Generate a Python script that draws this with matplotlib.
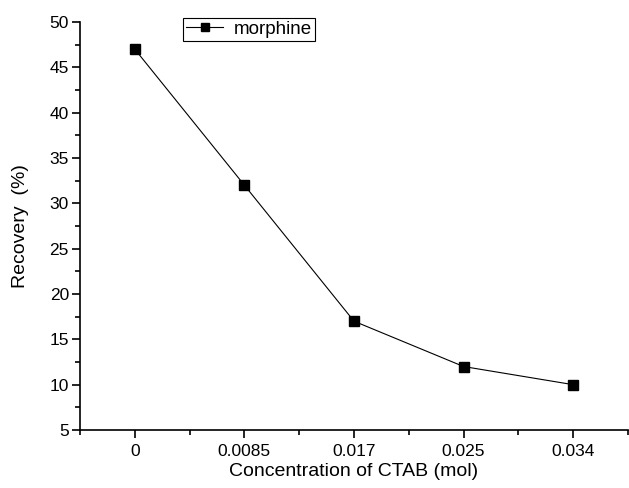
import matplotlib
matplotlib.use('Agg')
import matplotlib.pyplot as plt
from matplotlib.ticker import MultipleLocator

plt.rcParams['font.family'] = ['Liberation Sans', 'DejaVu Sans']

# CTAB concentration (mol) and recovery of morphine (%)
conc_labels = ['0', '0.0085', '0.017', '0.025', '0.034']
recovery = [47, 32, 17, 12, 10]

fig = plt.figure(figsize=(6.29, 4.88), dpi=100)
ax = fig.add_axes([80 / 629, 58 / 488, 548 / 629, 408 / 488])

pos = list(range(len(conc_labels)))
ax.plot(pos, recovery, color='black', lw=0.8, marker='s', ms=7,
        markerfacecolor='black', markeredgecolor='black', label='morphine')

ax.set_xlim(-0.5, len(conc_labels) - 0.5)
ax.set_ylim(5, 50)
ax.set_xticks(pos)
ax.set_xticklabels(conc_labels)
ax.xaxis.set_minor_locator(MultipleLocator(1, offset=0.5))
ax.yaxis.set_major_locator(MultipleLocator(5))
ax.yaxis.set_minor_locator(MultipleLocator(2.5))

for s in ['top', 'right']:
    ax.spines[s].set_visible(False)
for s in ['left', 'bottom']:
    ax.spines[s].set_linewidth(1.2)

ax.tick_params(which='major', direction='out', length=6, width=1.2, labelsize=12.5, pad=2)
ax.tick_params(which='minor', direction='out', length=3.5, width=1.2)
ax.tick_params(axis='x', which='major', pad=4)

ax.set_xlabel('Concentration of CTAB (mol)', fontsize=14, labelpad=3)
ax.set_ylabel('Recovery  (%)', fontsize=14, labelpad=15)

# legend box sits partly above the top of the axes
leg = ax.legend(loc='upper left', bbox_to_anchor=(183 / 629, 1 - 18 / 488),
                bbox_transform=fig.transFigure, borderaxespad=0, fancybox=False,
                frameon=True, fontsize=13.5, handlelength=2.0, handletextpad=0.55,
                borderpad=0.15, markerscale=0.85, framealpha=1)
leg.get_frame().set_edgecolor('black')
leg.get_frame().set_linewidth(0.8)

plt.savefig('out.png', dpi=100)
